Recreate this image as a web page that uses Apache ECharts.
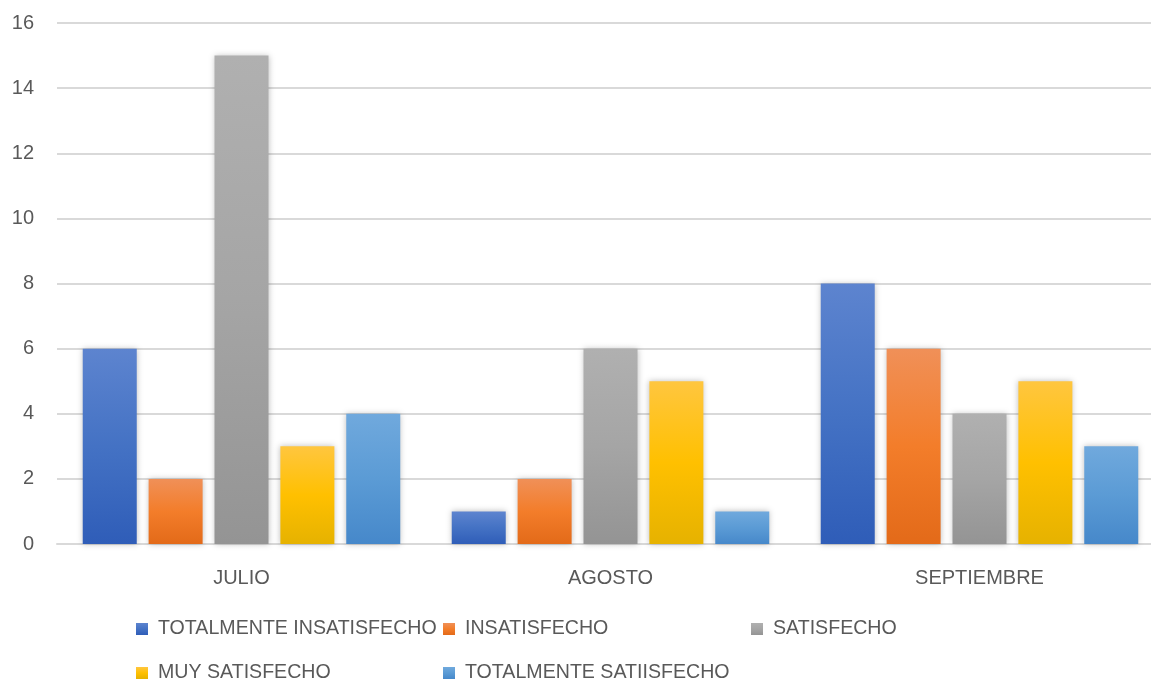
<!DOCTYPE html>
<html>
<head>
<meta charset="utf-8">
<script src="https://cdn.jsdelivr.net/npm/echarts@6/dist/echarts.min.js"></script>
<style>
    html, body { margin: 0; padding: 0; background: #fff; overflow: hidden; }
    #chart { width: 1164px; height: 684px; }
</style>
</head>
<body>
<div id="chart"></div>
<script>
    //类别
    let categories = ['JULIO', 'AGOSTO', 'SEPTIEMBRE'];
    //系列名称
    let seriesNames = [
        'TOTALMENTE INSATISFECHO',
        'INSATISFECHO',
        'SATISFECHO',
        'MUY SATISFECHO',
        'TOTALMENTE SATIISFECHO'
    ];
    //各系列数值
    let totalmenteInsatisfecho = [6, 1, 8];
    let insatisfecho = [2, 2, 6];
    let satisfecho = [15, 6, 4];
    let muySatisfecho = [3, 5, 5];
    let totalmenteSatisfecho = [4, 1, 3];
    //y轴刻度
    let yTicks = [0, 2, 4, 6, 8, 10, 12, 14, 16];

    let seriesValues = [totalmenteInsatisfecho, insatisfecho, satisfecho, muySatisfecho, totalmenteSatisfecho];
    //渐变色 (上, 中, 下)
    let gradients = [
        ['#5d84cf', '#4472c4', '#2f5db8'],
        ['#f09058', '#f37d2a', '#e36a19'],
        ['#b0b0b0', '#a5a5a5', '#949494'],
        ['#ffc63f', '#ffc000', '#e6b200'],
        ['#70a9dd', '#5b9bd5', '#4688ca']
    ];
    let legendLeft = [136, 443, 751, 136, 443];
    let legendTop = [619, 619, 619, 663, 663];
    let font = "'Liberation Sans Narrow', 'Liberation Sans', sans-serif";

    let chart = echarts.init(document.getElementById('chart'), null, {renderer: 'canvas'});

    let series = seriesNames.map(function (name, i) {
        let g = gradients[i];
        return {
            name: name,
            type: 'bar',
            data: seriesValues[i],
            barWidth: 54,
            barGap: '22%',
            itemStyle: {
                color: new echarts.graphic.LinearGradient(0, 0, 0, 1, [
                    {offset: 0, color: g[0]},
                    {offset: 0.5, color: g[1]},
                    {offset: 1, color: g[2]}
                ]),
                shadowColor: 'rgba(0,0,0,0.25)',
                shadowBlur: 6
            },
            emphasis: {disabled: true}
        };
    });

    let legends = seriesNames.map(function (name, i) {
        return {
            data: [name],
            left: legendLeft[i],
            top: legendTop[i],
            padding: 0,
            itemWidth: 12,
            itemHeight: 12,
            itemGap: 10,
            icon: 'rect',
            textStyle: {color: '#595959', fontSize: 19.6, fontFamily: font, padding: [0, 0, 0, 5]}
        };
    });

    chart.setOption({
        animation: false,
        backgroundColor: '#ffffff',
        color: gradients.map(function (g) { return g[1]; }),
        grid: {left: 57, top: 23, right: 0, bottom: 140, containLabel: false},
        legend: legends,
        xAxis: {
            type: 'category',
            data: categories,
            axisLine: {lineStyle: {color: '#d9d9d9', width: 2}},
            axisTick: {show: false},
            axisLabel: {color: '#595959', fontSize: 20, fontFamily: font, margin: 24}
        },
        yAxis: {
            type: 'value',
            min: yTicks[0],
            max: yTicks[yTicks.length - 1],
            interval: 2,
            axisLine: {show: false},
            axisTick: {show: false},
            splitLine: {lineStyle: {color: '#d9d9d9', width: 2}},
            axisLabel: {color: '#595959', fontSize: 20, fontFamily: font, margin: 23}
        },
        series: series
    });
</script>
</body>
</html>
